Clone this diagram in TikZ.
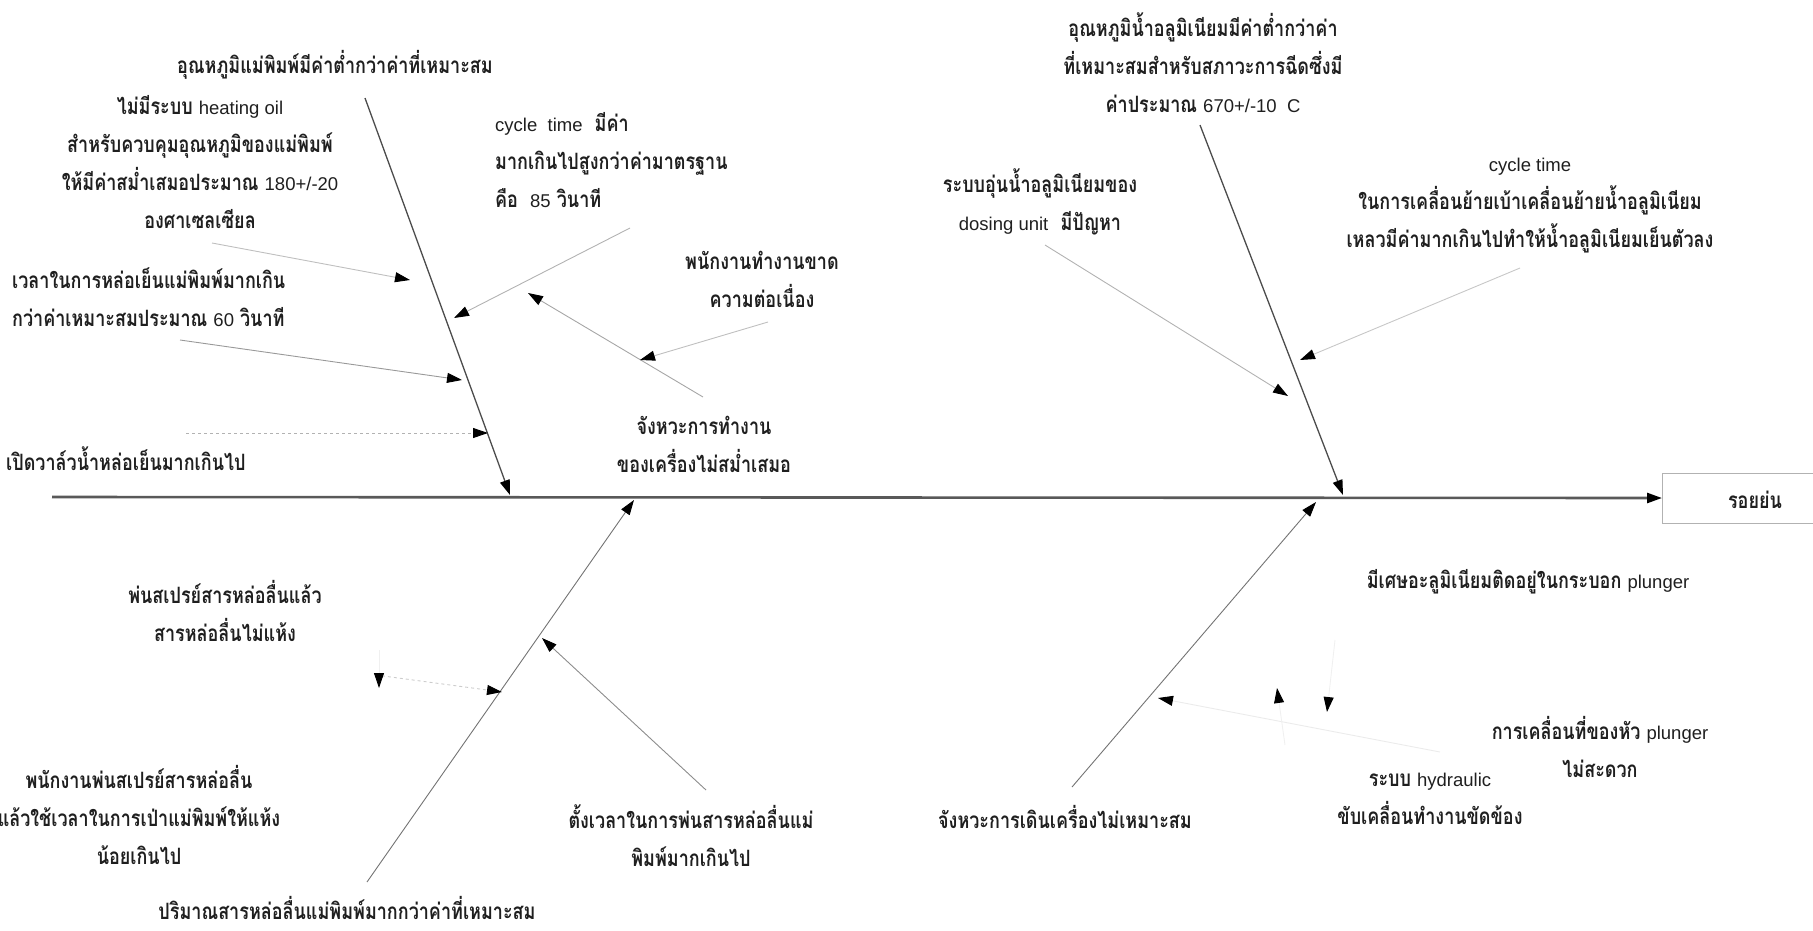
\documentclass[tikz,border=0pt]{standalone}
\usepackage{fontspec}
\newfontfamily\thaifont[Script=Thai,FakeStretch=0.8]{Loma}
\newfontfamily\latinfont{Liberation Sans}
\newcommand\engl[1]{{\latinfont\mdseries\fontsize{18.5}{38}\selectfont #1}}
\usetikzlibrary{arrows.meta}
\begin{document}
\begin{tikzpicture}[x=1pt,y=-1pt,
  lbl/.style={font=\thaifont\bfseries\fontsize{22.5}{38}\selectfont, text=black!88, align=center, inner sep=0pt},
  tip/.style={-{Triangle[length=15pt,width=10pt,color=black]}},
  spine/.style={draw=black!65, line width=2.6pt, tip},
  bone/.style={draw=black!70, line width=1.3pt, tip},
  twig/.style={draw=black!40, line width=0.9pt, tip},
  faint/.style={draw=black!18, line width=0.9pt, tip},
  effectbox/.style={draw=black!30, line width=1pt, minimum width=170pt, minimum height=50pt, inner sep=0pt, anchor=west}
]
\useasboundingbox (0,0) rectangle (1813,930);

% ---------- spine and effect ----------
\node[effectbox] (effect) at (1662,498) {};
\node[lbl] (effecttxt) at (1755,500) {รอยย่น};
\coordinate (tail) at (52,497);
\draw[spine] (tail) -- (effect.west);

% ---------- main bones ----------
\coordinate (ulS) at (365,98);   \coordinate (ulE) at (510,495);
\coordinate (urS) at (1200,125); \coordinate (urE) at (1343,495);
\coordinate (llS) at (367,882);  \coordinate (llE) at (634,500);
\coordinate (lrS) at (1072,787); \coordinate (lrE) at (1316,502);
\draw[bone] (ulS) -- (ulE);
\draw[bone] (urS) -- (urE);
\draw[twig, draw=black!55] (llS) -- (llE);
\draw[twig, draw=black!55] (lrS) -- (lrE);

% ---------- upper left: mould temperature ----------
\node[lbl] (ulLbl) at (335,65) {อุณหภูมิแม่พิมพ์มีค่าต่ำกว่าค่าที่เหมาะสม};
\node[lbl] (heat) at (200,162) {ไม่มีระบบ \engl{heating oil}\\สำหรับควบคุมอุณหภูมิของแม่พิมพ์\\ให้มีค่าสม่ำเสมอประมาณ \engl{180+/-20}\\องศาเซลเซียล};
\node[lbl, align=left, anchor=west] (cool) at (12,297) {เวลาในการหล่อเย็นแม่พิมพ์มากเกิน\\กว่าค่าเหมาะสมประมาณ \engl{60} วินาที};
\node[lbl, anchor=west] (valve) at (6,459) {เปิดวาล์วน้ำหล่อเย็นมากเกินไป};
\node[lbl, align=left, anchor=west] (cycL) at (495,160) {\engl{cycle\ \ time}\ \ มีค่า\\มากเกินไปสูงกว่าค่ามาตรฐาน\\คือ\ \ \engl{85} วินาที};
\node[lbl] (staff) at (762,279) {พนักงานทำงานขาด\\ความต่อเนื่อง};
\node[lbl] (rhythm) at (704,444) {จังหวะการทำงาน\\ของเครื่องไม่สม่ำเสมอ};

\coordinate (heatS) at (212,243);  \coordinate (heatE) at (410,280);
\coordinate (coolS) at (180,340);  \coordinate (coolE) at (462,380);
\coordinate (valveS) at (186,433); \coordinate (valveE) at (488,433);
\coordinate (cycLS) at (630,228);  \coordinate (cycLE) at (454,318);
\coordinate (rhyS) at (703,397);   \coordinate (rhyE) at (528,293);
\coordinate (staffS) at (768,322); \coordinate (staffE) at (640,360);
\draw[faint, draw=black!25] (heatS) -- (heatE);
\draw[twig] (coolS) -- (coolE);
\draw[faint, draw=black!30, dashed] (valveS) -- (valveE);
\draw[twig, draw=black!30] (cycLS) -- (cycLE);
\draw[twig, draw=black!35] (rhyS) -- (rhyE);
\draw[faint, draw=black!25] (staffS) -- (staffE);

% ---------- upper right: molten aluminium temperature ----------
\node[lbl] (urLbl) at (1203,63) {อุณหภูมิน้ำอลูมิเนียมมีค่าต่ำกว่าค่า\\ที่เหมาะสมสำหรับสภาวะการฉีดซึ่งมี\\ค่าประมาณ \engl{670+/-10\ \ C}};
\node[lbl] (dosing) at (1040,202) {ระบบอุ่นน้ำอลูมิเนียมของ\\\engl{dosing unit}\ \ มีปัญหา};
\node[lbl] (cycR) at (1530,206) {\engl{cycle time}\\ในการเคลื่อนย้ายเบ้าเคลื่อนย้ายน้ำอลูมิเนียม\\เหลวมีค่ามากเกินไปทำให้น้ำอลูมิเนียมเย็นตัวลง};
\coordinate (dosS) at (1045,245);  \coordinate (dosE) at (1288,396);
\coordinate (cycRS) at (1520,268); \coordinate (cycRE) at (1300,360);
\draw[twig, draw=black!30] (dosS) -- (dosE);
\draw[faint, draw=black!22] (cycRS) -- (cycRE);

% ---------- lower left: release agent ----------
\node[lbl] (spray) at (225,611) {พ่นสเปรย์สารหล่อลื่นแล้ว\\สารหล่อลื่นไม่แห้ง};
\node[lbl] (blow) at (139,815) {พนักงานพ่นสเปรย์สารหล่อลื่น\\แล้วใช้เวลาในการเป่าแม่พิมพ์ให้แห้ง\\น้อยเกินไป};
\node[lbl] (lube) at (347,908) {ปริมาณสารหล่อลื่นแม่พิมพ์มากกว่าค่าที่เหมาะสม};
\node[lbl] (timer) at (691,836) {ตั้งเวลาในการพ่นสารหล่อลื่นแม่\\พิมพ์มากเกินไป};
\coordinate (blowS) at (376,675);  \coordinate (blowE) at (502,692);
\coordinate (sprayS) at (379,650); \coordinate (sprayE) at (379,688);
\coordinate (timS) at (706,790);   \coordinate (timE) at (542,638);
\draw[faint, draw=black!20, dashed] (blowS) -- (blowE);
\draw[faint, draw=black!6] (sprayS) -- (sprayE);
\draw[twig, draw=black!45] (timS) -- (timE);

% ---------- lower right: machine ----------
\node[lbl] (mach) at (1065,817) {จังหวะการเดินเครื่องไม่เหมาะสม};
\node[lbl] (hyd) at (1430,799) {ระบบ \engl{hydraulic}\\ขับเคลื่อนทำงานขัดข้อง};
\node[lbl] (plunger) at (1600,747) {การเคลื่อนที่ของหัว \engl{plunger}\\ไม่สะดวก};
\node[lbl] (scrap) at (1528,582) {มีเศษอะลูมิเนียมติดอยู่ในกระบอก \engl{plunger}};
\coordinate (plS) at (1440,752); \coordinate (plE) at (1158,698);
\coordinate (hyS) at (1285,745); \coordinate (hyE) at (1277,688);
\coordinate (scS) at (1335,640); \coordinate (scE) at (1327,712);
\draw[faint, draw=black!8] (plS) -- (plE);
\draw[faint, draw=black!6] (hyS) -- (hyE);
\draw[faint, draw=black!6] (scS) -- (scE);
\end{tikzpicture}
\end{document}
